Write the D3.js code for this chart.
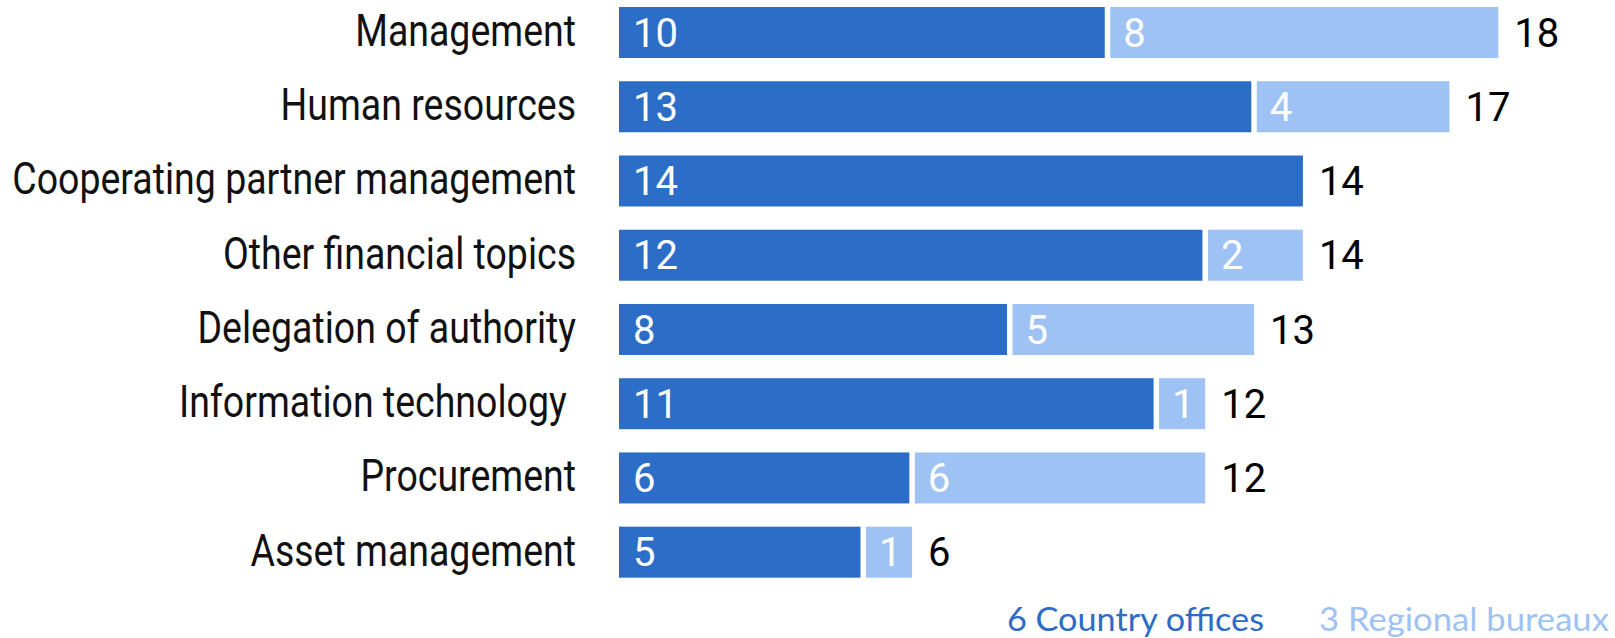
<!DOCTYPE html>
<html>
<head>
<meta charset="utf-8">
<script src="https://cdn.jsdelivr.net/npm/d3@7/dist/d3.min.js"></script>
<style>
  html, body { margin: 0; padding: 0; background: #fff; }
  svg { display: block; }
  text { white-space: pre; }
</style>
</head>
<body>
<svg id="chart" width="1615" height="638"></svg>
<script>
const categories = ["Management", "Human resources", "Cooperating partner management", "Other financial topics", "Delegation of authority", "Information technology ", "Procurement", "Asset management"];
const countryOffices = [10, 13, 14, 12, 8, 11, 6, 5];
const regionalBureaux = [8, 4, 0, 2, 5, 1, 6, 1];
const legendLabels = ["6 Country offices", "3 Regional bureaux"];

const darkBlue = "#2C6DC8";
const lightBlue = "#9EC2F4";

const svg = d3.select("#chart");

const x = d3.scaleLinear().domain([0, 18]).range([619, 619 + 18 * 48.85]);
const y = d3.scaleBand().domain(categories).range([-4.6, 589.3]).paddingInner(0.313).paddingOuter(0.1565);

const rows = categories.map((c, i) => ({ cat: c, a: countryOffices[i], b: regionalBureaux[i], total: countryOffices[i] + regionalBureaux[i] }));
const halfGap = 2.75;

// Category labels (condensed look via horizontal scaling of Roboto)
const catG = svg.append("g");
const catTexts = catG.selectAll("text").data(rows).join("text")
  .attr("text-anchor", "end")
  .attr("font-family", "Roboto, sans-serif")
  .attr("font-size", 44)
  .attr("fill", "#111")
  .text(d => d.cat);
let maxW = 0;
catTexts.each(function () { maxW = Math.max(maxW, this.getComputedTextLength()); });
const f = 564 / maxW;
catTexts.attr("transform", d => `translate(576,${y(d.cat) + y.bandwidth() / 2 + 13.5}) scale(${f},1)`);

// Dark segments
svg.append("g").selectAll("rect").data(rows).join("rect")
  .attr("x", x(0))
  .attr("y", d => y(d.cat))
  .attr("height", y.bandwidth())
  .attr("width", d => x(d.a) - x(0) - (d.b > 0 ? halfGap : 0))
  .attr("fill", darkBlue);

// Light segments
svg.append("g").selectAll("rect").data(rows.filter(d => d.b > 0)).join("rect")
  .attr("x", d => x(d.a) + halfGap)
  .attr("y", d => y(d.cat))
  .attr("height", y.bandwidth())
  .attr("width", d => x(d.a + d.b) - x(d.a) - halfGap)
  .attr("fill", lightBlue);

// Value labels inside segments
const valFont = "Roboto, sans-serif";
svg.append("g").selectAll("text").data(rows).join("text")
  .attr("x", x(0) + 14)
  .attr("y", d => y(d.cat) + y.bandwidth() / 2 + 14.2)
  .attr("font-family", valFont).attr("font-size", 40).attr("fill", "#fff")
  .text(d => d.a);
svg.append("g").selectAll("text").data(rows.filter(d => d.b > 0)).join("text")
  .attr("x", d => x(d.a) + halfGap + 13)
  .attr("y", d => y(d.cat) + y.bandwidth() / 2 + 14.2)
  .attr("font-family", valFont).attr("font-size", 40).attr("fill", "#fff")
  .text(d => d.b);

// Totals
svg.append("g").selectAll("text").data(rows).join("text")
  .attr("x", d => x(d.total) + 16)
  .attr("y", d => y(d.cat) + y.bandwidth() / 2 + 14.2)
  .attr("font-family", valFont).attr("font-size", 40).attr("fill", "#000")
  .text(d => d.total);

// Legend
const legendSpec = [
  { label: legendLabels[0], color: "#2D6BC5", x0: 1007, w: 257 },
  { label: legendLabels[1], color: "#9DC2F3", x0: 1319, w: 290 }
];
legendSpec.forEach(s => {
  const t = svg.append("text")
    .attr("font-family", "Lato, 'Open Sans', sans-serif")
    .attr("font-size", 33)
    .attr("fill", s.color)
    .text(s.label);
  const w = t.node().getComputedTextLength();
  t.attr("transform", `translate(${s.x0},630.5) scale(${s.w / w},1)`);
});
</script>
</body>
</html>
